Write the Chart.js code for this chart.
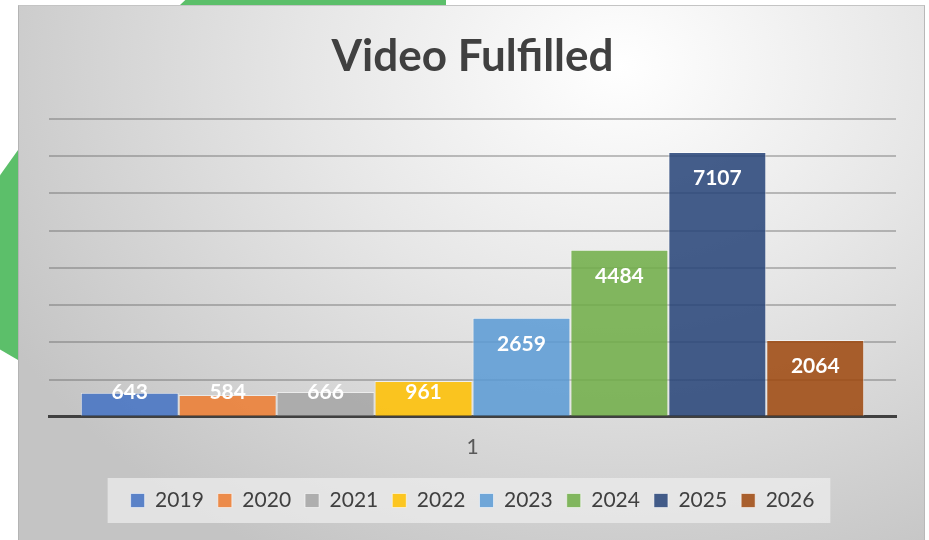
<!DOCTYPE html>
<html>
<head>
<meta charset="utf-8">
<title>Video Fulfilled</title>
<script src="https://cdn.jsdelivr.net/npm/chart.js@4/dist/chart.umd.min.js"></script>
<style>
  html, body { margin: 0; padding: 0; background: #fff; }
  body { width: 929px; height: 540px; position: relative; overflow: hidden; }
  .leaf { position: absolute; background: #5cbf6a; }
  .leaf.top { left: 180px; top: 0; width: 266px; height: 5px; clip-path: polygon(2% 0, 100% 0, 100% 100%, 0 100%); }
  .leaf.side { left: 0; top: 150px; width: 18px; height: 210px; clip-path: polygon(100% 0, 100% 100%, 0 95%, 0 12%); }
  #panel {
    position: absolute; left: 18px; top: 5px; width: 907px; height: 540px;
    box-sizing: border-box;
    border-top: 1px solid #c4c4c4; border-left: 1px solid #b4b4b4; border-right: 1px solid #b8b8b8;
    background: radial-gradient(ellipse 700px 560px at 600px 60px, #ffffff 0%, #e6e6e6 45%, #c4c4c4 100%);
  }
  #panel canvas { position: absolute; left: 0; top: 0; }
</style>
</head>
<body>
<div class="leaf top"></div>
<div class="leaf side"></div>
<div id="panel"><canvas id="videoChart" width="907" height="535"></canvas></div>
<script>
const categories = ['1'];
const years = ['2019', '2020', '2021', '2022', '2023', '2024', '2025', '2026'];
const fulfilled = [643, 584, 666, 961, 2659, 4484, 7107, 2064];
const barColors = [
  'rgba(68,114,196,0.86)', 'rgba(237,125,49,0.86)', 'rgba(165,165,165,0.86)', 'rgba(255,192,0,0.86)',
  'rgba(91,155,213,0.86)', 'rgba(112,173,71,0.86)', 'rgba(38,68,120,0.86)', 'rgba(158,72,14,0.86)'
];
const yTicks = { min: 0, max: 8000, step: 1000 };

const FONT = 'Lato, "Open Sans", sans-serif';

// white value labels near the top of each bar, pushed up when the bar is short
const valueLabels = {
  id: 'valueLabels',
  afterDatasetsDraw(chart) {
    const ctx = chart.ctx;
    ctx.save();
    ctx.font = `bold 21px ${FONT}`;
    ctx.fillStyle = '#ffffff';
    ctx.textAlign = 'center';
    ctx.textBaseline = 'middle';
    chart.data.datasets.forEach((ds, i) => {
      const bar = chart.getDatasetMeta(i).data[0];
      if (!bar) return;
      const y = Math.min(bar.y + 26, bar.base - 24);
      ctx.fillText(String(ds.data[0]), bar.x, y);
    });
    ctx.restore();
  }
};

// light panel behind the legend entries
const legendBox = {
  id: 'legendBox',
  beforeDraw(chart) {
    const boxes = chart.legend && chart.legend.legendHitBoxes;
    if (!boxes || !boxes.length) return;
    const left = Math.min(...boxes.map(b => b.left)) - 23;
    const right = Math.max(...boxes.map(b => b.left + b.width)) + 16;
    const top = Math.min(...boxes.map(b => b.top));
    const bottom = Math.max(...boxes.map(b => b.top + b.height));
    const ctx = chart.ctx;
    ctx.save();
    ctx.fillStyle = 'rgba(236,236,236,0.75)';
    ctx.fillRect(left, top - 12, right - left, bottom - top + 24);
    ctx.restore();
  }
};

new Chart(document.getElementById('videoChart').getContext('2d'), {
  type: 'bar',
  data: {
    labels: categories,
    datasets: years.map((year, i) => ({
      label: year,
      data: [fulfilled[i]],
      backgroundColor: barColors[i],
      borderColor: 'rgba(255,255,255,0.55)',
      borderWidth: 1
    }))
  },
  options: {
    responsive: false,
    animation: false,
    layout: { padding: { left: 30, right: 30, top: 0, bottom: 20 } },
    datasets: { bar: { categoryPercentage: 0.925, barPercentage: 1 } },
    scales: {
      x: {
        grid: { display: false },
        border: { display: true, color: '#404040', width: 3 },
        ticks: { color: '#595959', font: { family: FONT, size: 21 }, padding: 10 },
        // extra room between the axis label and the legend
        afterFit(scale) { scale.height += 6; }
      },
      y: {
        min: yTicks.min,
        max: yTicks.max,
        ticks: { display: false, stepSize: yTicks.step },
        border: { display: false },
        grid: { color: 'rgba(95,95,95,0.38)', lineWidth: 2, drawTicks: false }
      }
    },
    plugins: {
      title: {
        display: true,
        text: 'Video Fulfilled',
        color: '#404040',
        font: { family: FONT, size: 44, weight: 'bold' },
        padding: { top: 24, bottom: 36 }
      },
      legend: {
        position: 'bottom',
        labels: {
          color: '#404040',
          font: { family: FONT, size: 21 },
          boxWidth: 14,
          boxHeight: 14,
          padding: 14
        }
      },
      tooltip: { enabled: false }
    }
  },
  plugins: [legendBox, valueLabels]
});
</script>
</body>
</html>
